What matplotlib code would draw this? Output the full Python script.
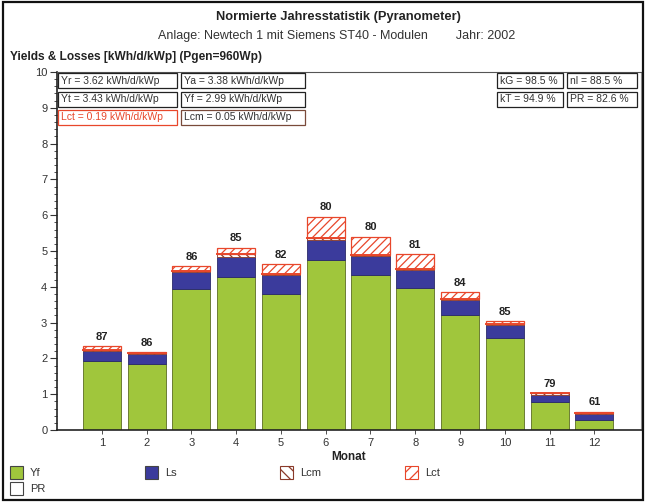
import matplotlib
matplotlib.use("Agg")
import matplotlib.pyplot as plt
from matplotlib.patches import Rectangle
import numpy as np

plt.rcParams['font.family'] = ['Liberation Sans', 'DejaVu Sans']
plt.rcParams['hatch.linewidth'] = 0.9

months = [1, 2, 3, 4, 5, 6, 7, 8, 9, 10, 11, 12]
yf = [1.94, 1.83, 3.95, 4.27, 3.80, 4.75, 4.32, 3.97, 3.21, 2.56, 0.79, 0.28]
ls = [0.27, 0.29, 0.46, 0.56, 0.52, 0.57, 0.55, 0.51, 0.43, 0.38, 0.20, 0.16]
lcm = [0.03, 0.03, 0.04, 0.08, 0.04, 0.03, 0.02, 0.02, 0.03, 0.02, 0.04, 0.03]
lct = [0.10, 0.03, 0.12, 0.18, 0.28, 0.61, 0.51, 0.42, 0.18, 0.08, 0.00, 0.04]
pr = [87, 86, 86, 85, 82, 80, 80, 81, 84, 85, 79, 61]

info_left = [["Yr = 3.62 kWh/d/kWp", "Ya = 3.38 kWh/d/kWp"],
             ["Yt = 3.43 kWh/d/kWp", "Yf = 2.99 kWh/d/kWp"],
             ["Lct = 0.19 kWh/d/kWp", "Lcm = 0.05 kWh/d/kWp"]]
info_right = [["kG = 98.5 %", "nl = 88.5 %"],
              ["kT = 94.9 %", "PR = 82.6 %"]]

W, H = 649, 503
fig = plt.figure(figsize=(W / 100, H / 100), dpi=100)
fig.patch.set_facecolor('white')


def fx(px):
    return px / W


def fy(py):
    return 1 - py / H


ax = fig.add_axes([fx(57), fy(430), fx(641) - fx(57), fy(72) - fy(430)])

green = '#a0c63c'
blue = '#3b3b9c'
red = '#e8472b'
brown = '#8a3a2a'

x = np.array(months)
bw = 0.85
yf_a = np.array(yf)
ls_a = np.array(ls)
lcm_a = np.array(lcm)
lct_a = np.array(lct)

ax.bar(x, yf_a, bw, color=green, edgecolor='#5c6e22', linewidth=0.6, zorder=2)
ax.bar(x, ls_a, bw, bottom=yf_a, color=blue, edgecolor='#2a2a6a', linewidth=0.6, zorder=2)
b2 = yf_a + ls_a
ax.bar(x, lcm_a, bw, bottom=b2, color='white', edgecolor=brown, hatch='\\\\\\\\',
       linewidth=0.6, zorder=2)
b3 = b2 + lcm_a
ax.bar(x, lct_a, bw, bottom=b3, color='white', edgecolor=red, hatch='////',
       linewidth=0.9, zorder=2)
ax.plot([x - bw / 2, x + bw / 2], [b3, b3], color=red, lw=1.4, zorder=3)
tot = b3 + lct_a
for xi, t, p in zip(x, tot, pr):
    ax.text(xi, t + 0.12, str(p), ha='center', va='bottom', fontsize=8,
            fontweight='bold', color='#222222')

ax.set_xlim(0, 13.04)
ax.set_ylim(0, 10)
ax.set_yticks(range(0, 11))
ax.set_yticks(np.arange(0, 10.01, 0.2), minor=True)
ax.set_xticks(months)
ax.tick_params(axis='y', which='major', length=5, width=0.8, labelsize=8, colors='#333333', pad=2)
ax.tick_params(axis='y', which='minor', length=2.5, width=0.6, colors='#333333')
ax.tick_params(axis='x', which='major', length=3, width=0.6, labelsize=8, colors='#333333', pad=3)
ax.set_xlabel('Monat', fontsize=8.5, fontweight='bold', labelpad=2, color='#222222')
for s in ['left', 'bottom']:
    ax.spines[s].set_linewidth(1.2)
    ax.spines[s].set_color('#222222')
ax.spines['top'].set_color('#555555')
ax.spines['top'].set_linewidth(0.8)
ax.spines['right'].set_color('#999999')
ax.spines['right'].set_linewidth(0.8)

# titles
fig.text(fx(338), fy(17), 'Normierte Jahresstatistik (Pyranometer)', ha='center', va='center',
         fontsize=9.3, fontweight='bold', color='#222222')
fig.text(fx(337), fy(36), 'Anlage: Newtech 1 mit Siemens ST40 - Modulen        Jahr: 2002',
         ha='center', va='center', fontsize=9, color='#333333')
fig.text(fx(10), fy(57), 'Yields & Losses [kWh/d/kWp] (Pgen=960Wp)', ha='left', va='center',
         fontsize=8.6, fontweight='bold', color='#222222')

# info boxes
rows_y = [(73, 88), (92, 107), (110, 125)]
cols_l = [(58, 177), (181, 305)]
for r, row in enumerate(info_left):
    for c, txt in enumerate(row):
        x0, x1 = cols_l[c]
        y0, y1 = rows_y[r]
        col = red if r == 2 and c == 0 else ('#7a4a3a' if r == 2 else '#222222')
        tcol = red if r == 2 and c == 0 else '#333333'
        fig.patches.append(Rectangle((fx(x0), fy(y1)), fx(x1) - fx(x0), fy(y0) - fy(y1),
                                     transform=fig.transFigure, facecolor='white',
                                     edgecolor=col, linewidth=0.9, zorder=5))
        fig.text(fx(x0 + 3), fy((y0 + y1) / 2), txt, ha='left', va='center', fontsize=7.5,
                 color=tcol, zorder=6)
cols_r = [(497, 563), (567, 637)]
for r, row in enumerate(info_right):
    for c, txt in enumerate(row):
        x0, x1 = cols_r[c]
        y0, y1 = rows_y[r]
        fig.patches.append(Rectangle((fx(x0), fy(y1)), fx(x1) - fx(x0), fy(y0) - fy(y1),
                                     transform=fig.transFigure, facecolor='white',
                                     edgecolor='#222222', linewidth=0.9, zorder=5))
        fig.text(fx(x0 + 3), fy((y0 + y1) / 2), txt, ha='left', va='center', fontsize=7.5,
                 color='#333333', zorder=6)

# legend
leg_items = [
    ('Yf', 10, 466, dict(facecolor=green, edgecolor='#444444')),
    ('Ls', 145, 466, dict(facecolor=blue, edgecolor='#444444')),
    ('Lcm', 280, 466, dict(facecolor='white', edgecolor=brown, hatch='\\\\\\')),
    ('Lct', 405, 466, dict(facecolor='white', edgecolor=red, hatch='///')),
    ('PR', 10, 482, dict(facecolor='white', edgecolor='#444444')),
]
for lab, lx, ly, kw in leg_items:
    fig.patches.append(Rectangle((fx(lx), fy(ly + 13)), fx(13), 13 / H,
                                 transform=fig.transFigure, linewidth=0.8, **kw))
    fig.text(fx(lx + 20), fy(ly + 6.5), lab, ha='left', va='center', fontsize=8, color='#333333')

# outer frame
fig.patches.append(Rectangle((fx(3), fy(500)), fx(643) - fx(3), fy(2) - fy(500),
                             transform=fig.transFigure, facecolor='none',
                             edgecolor='#111111', linewidth=1.6))

fig.savefig('out.png', dpi=100)
